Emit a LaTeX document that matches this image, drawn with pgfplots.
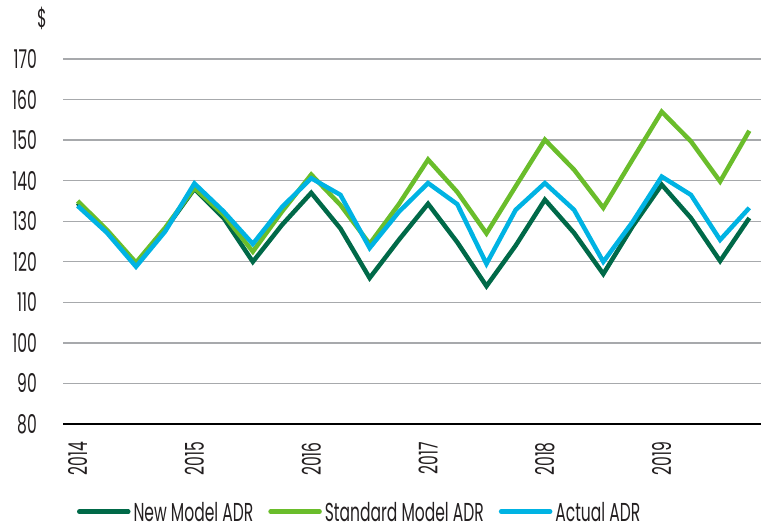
\documentclass[border=0pt]{standalone}
\usepackage{fontspec}
\setmainfont{Poppins}[FakeStretch=0.6]
\usepackage{pgfplots}
\pgfplotsset{compat=1.18}
\usepackage{pgfplotstable}

\definecolor{newgreen}{RGB}{0,105,72}
\definecolor{stdgreen}{RGB}{106,189,43}
\definecolor{actblue}{RGB}{0,179,227}
\definecolor{gridgray}{RGB}{167,169,172}
\definecolor{textgray}{RGB}{35,31,32}

% Quarterly average daily rate, 2014 Q1 to 2019 Q4
\pgfplotstableread{
q  new    std    act
0  134.5  135.0  133.8
1  127.5  127.9  127.2
2  119.3  119.8  118.8
3  128.0  128.4  127.5
4  138.0  138.2  139.3
5  130.8  131.6  132.4
6  120.0  122.5  124.4
7  129.1  132.4  133.5
8  137.0  141.5  140.6
9  128.2  134.0  136.5
10 116.0  124.4  123.4
11 125.4  134.2  132.3
12 134.3  145.2  139.4
13 124.8  137.2  134.2
14 114.0  127.0  119.5
15 124.0  138.6  132.8
16 135.3  150.1  139.4
17 127.1  142.7  132.8
18 117.0  133.3  120.0
19 128.7  145.2  129.8
20 139.0  157.0  141.0
21 130.8  149.7  136.5
22 120.2  139.8  125.4
23 130.8  152.3  133.3
}\adrdata

\begin{document}
\fontsize{26}{30}\selectfont
\color{textgray}
\begin{tikzpicture}
\useasboundingbox (-63bp,-107bp) rectangle (698bp,424bp);
\begin{axis}[
  at={(0,0)}, anchor=south west,
  scale only axis, width=698bp, height=365bp,
  xmin=-0.5, xmax=23.4, ymin=80, ymax=170,
  ytick={80,90,...,170},
  xtick={0,4,8,12,16,20},
  xticklabels={2014,2015,2016,2017,2018,2019},
  /pgf/number format/assume math mode=true,
  major tick length=0pt,
  axis lines*=left,
  x axis line style={draw=black, line width=2.6bp},
  y axis line style={draw=none},
  ymajorgrids,
  grid style={draw=gridgray, line width=1.3bp},
  yticklabel style={anchor=east, inner sep=0pt, xshift=-26bp, text=textgray},
  % rotated labels: the shift runs along the rotated x direction
  xticklabel style={rotate=90, anchor=east, inner sep=0pt, xshift=-18bp, text=textgray},
  every axis plot/.append style={line width=4.5bp, line join=miter, mark=none},
  legend image code/.code={\draw[#1, line width=4.5bp, line cap=round] (0bp,0bp) -- (49bp,0bp);},
  legend style={at={(axis description cs:0.0201,-0.24)}, anchor=west,
    draw=none, fill=none, inner sep=0pt, outer sep=0pt,
    legend columns=3,
    nodes={inner xsep=3bp, inner ysep=0pt, text depth=0pt, text=textgray},
    /tikz/every even column/.append style={column sep=12bp}},
  legend cell align=left,
]
\addplot[newgreen] table[x=q, y=new] {\adrdata};
\addlegendentry{New Model ADR}
\addplot[stdgreen] table[x=q, y=std] {\adrdata};
\addlegendentry{Standard Model ADR}
\addplot[actblue] table[x=q, y=act] {\adrdata};
\addlegendentry{Actual ADR}
\end{axis}
\node[text=textgray, inner sep=0pt] at (-21bp,406bp) {\$};
\end{tikzpicture}
\end{document}
